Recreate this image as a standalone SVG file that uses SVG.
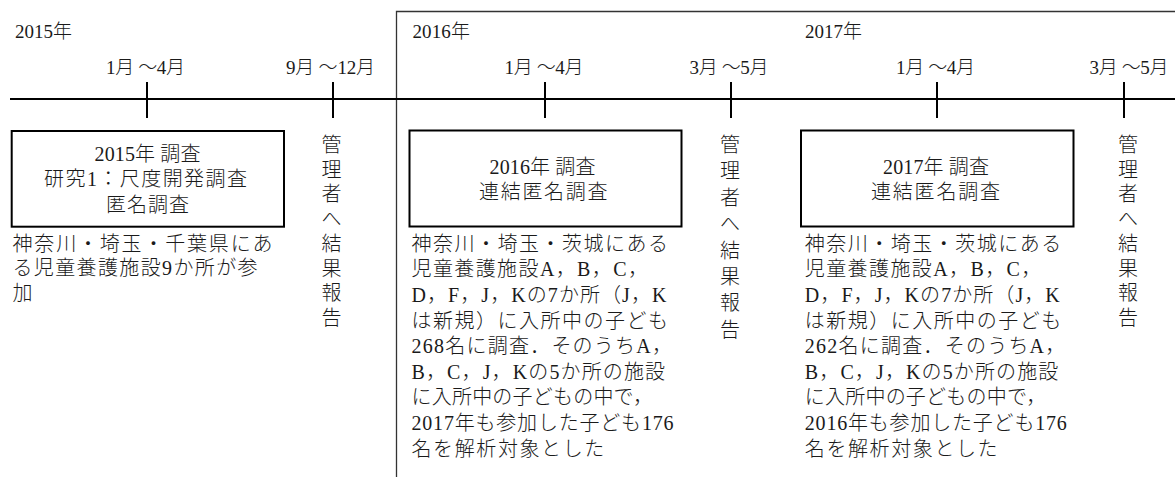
<svg xmlns="http://www.w3.org/2000/svg" width="1175" height="477" viewBox="0 0 1175 477">
<style>
text{font-family:"Liberation Serif","Noto Sans CJK JP",serif;fill:#1a1a1a;font-weight:300;}
.r{font-family:"Liberation Serif",serif;font-weight:400;}
.lbl{font-size:19px;}
.t{font-size:20px;}
.ls{letter-spacing:1.6px;}
.box{fill:#fff;stroke:#000;stroke-width:2;}
.axis{stroke:#000;stroke-width:2;fill:none;}
.frame{stroke:#333;stroke-width:1.3;fill:none;}
.vc{font-size:20px;text-anchor:middle;}
</style>
<rect width="1175" height="477" fill="#fff"/>
<g id="connectors">
<path class="frame" d="M396.5,477 V11.5 H1175"/>
<line class="axis" x1="10" y1="99" x2="1175" y2="99"/>
<line class="axis" x1="147" y1="82" x2="147" y2="118"/>
<line class="axis" x1="333" y1="82" x2="333" y2="118"/>
<line class="axis" x1="545" y1="82" x2="545" y2="118"/>
<line class="axis" x1="731" y1="82" x2="731" y2="118"/>
<line class="axis" x1="937" y1="82" x2="937" y2="118"/>
<line class="axis" x1="1124" y1="82" x2="1124" y2="118"/>
</g>
<g id="labels">
<text class="lbl" x="15" y="38" textLength="57"><tspan class="r">2015</tspan>年</text>
<text class="lbl" x="412.5" y="38" textLength="57.5"><tspan class="r">2016</tspan>年</text>
<text class="lbl" x="805" y="38" textLength="57"><tspan class="r">2017</tspan>年</text>
<text class="lbl" x="106" y="74" textLength="79"><tspan class="r">1</tspan>月 ～<tspan class="r">4</tspan>月</text>
<text class="lbl" x="286" y="74" textLength="89"><tspan class="r">9</tspan>月 ～<tspan class="r">12</tspan>月</text>
<text class="lbl" x="504.5" y="74" textLength="79"><tspan class="r">1</tspan>月 ～<tspan class="r">4</tspan>月</text>
<text class="lbl" x="689.5" y="74" textLength="79"><tspan class="r">3</tspan>月 ～<tspan class="r">5</tspan>月</text>
<text class="lbl" x="896" y="74" textLength="79"><tspan class="r">1</tspan>月 ～<tspan class="r">4</tspan>月</text>
<text class="lbl" x="1089.5" y="74" textLength="79"><tspan class="r">3</tspan>月 ～<tspan class="r">5</tspan>月</text>
</g>
<g id="survey2015">
<rect class="box" x="11.7" y="131" width="272.3" height="95.7"/>
<text class="t" x="94.5" y="160.5" textLength="106"><tspan class="r">2015</tspan>年 調査</text>
<text class="t" x="44" y="186" textLength="203">研究<tspan class="r">1</tspan>：尺度開発調査</text>
<text class="t" x="106" y="211.5" textLength="83">匿名調査</text>
<text class="t" x="12.5" y="251" textLength="260">神奈川・埼玉・千葉県にあ</text>
<text class="t" x="12.5" y="275" textLength="245">る児童養護施設<tspan class="r">9</tspan>か所が参</text>
<text class="t ls" x="12.5" y="299.5">加</text>
</g>
<g id="report2015">
<text class="vc"><tspan x="331.5" y="152">管</tspan><tspan x="331.5" y="176.7">理</tspan><tspan x="331.5" y="201.4">者</tspan><tspan x="331.5" y="226.1">へ</tspan><tspan x="331.5" y="250.8">結</tspan><tspan x="331.5" y="275.5">果</tspan><tspan x="331.5" y="300.2">報</tspan><tspan x="331.5" y="324.9">告</tspan></text>
</g>
<g id="survey2016">
<rect class="box" x="409.5" y="130.5" width="272" height="96"/>
<text class="t" x="489.5" y="173.5" textLength="106"><tspan class="r">2016</tspan>年 調査</text>
<text class="t" x="479" y="198.5" textLength="128.5">連結匿名調査</text>
<text class="t" x="411.5" y="250.7" textLength="256.5">神奈川・埼玉・茨城にある</text>
<text class="t" x="411.5" y="276.3" textLength="236.5">児童養護施設<tspan class="r">A</tspan>，<tspan class="r">B</tspan>，<tspan class="r">C</tspan>，</text>
<text class="t" x="411.5" y="301.9" textLength="255"><tspan class="r">D</tspan>，<tspan class="r">F</tspan>，<tspan class="r">J</tspan>，<tspan class="r">K</tspan>の<tspan class="r">7</tspan>か所（<tspan class="r">J</tspan>，<tspan class="r">K</tspan></text>
<text class="t" x="411.5" y="327.5" textLength="256.5">は新規）に入所中の子ども</text>
<text class="t" x="411.5" y="353.1" textLength="260.5"><tspan class="r">268</tspan>名に調査．そのうち<tspan class="r">A</tspan>，</text>
<text class="t" x="411.5" y="378.7" textLength="253.5"><tspan class="r">B</tspan>，<tspan class="r">C</tspan>，<tspan class="r">J</tspan>，<tspan class="r">K</tspan>の<tspan class="r">5</tspan>か所の施設</text>
<text class="t" x="411.5" y="404.3" textLength="241.5">に入所中の子どもの中で，</text>
<text class="t" x="411.5" y="429.9" textLength="262"><tspan class="r">2017</tspan>年も参加した子ども<tspan class="r">176</tspan></text>
<text class="t ls" x="411.5" y="455.5">名を解析対象とした</text>
</g>
<g id="report2016">
<text class="vc"><tspan x="730" y="152">管</tspan><tspan x="730" y="178.4">理</tspan><tspan x="730" y="204.8">者</tspan><tspan x="730" y="231.2">へ</tspan><tspan x="730" y="257.6">結</tspan><tspan x="730" y="284">果</tspan><tspan x="730" y="310.4">報</tspan><tspan x="730" y="336.8">告</tspan></text>
</g>
<g id="survey2017">
<rect class="box" x="801" y="130.5" width="272.5" height="96"/>
<text class="t" x="883" y="173.5" textLength="106"><tspan class="r">2017</tspan>年 調査</text>
<text class="t" x="871" y="198.5" textLength="129">連結匿名調査</text>
<text class="t" x="804.8" y="250.7" textLength="256.5">神奈川・埼玉・茨城にある</text>
<text class="t" x="804.8" y="276.3" textLength="236.5">児童養護施設<tspan class="r">A</tspan>，<tspan class="r">B</tspan>，<tspan class="r">C</tspan>，</text>
<text class="t" x="804.8" y="301.9" textLength="255"><tspan class="r">D</tspan>，<tspan class="r">F</tspan>，<tspan class="r">J</tspan>，<tspan class="r">K</tspan>の<tspan class="r">7</tspan>か所（<tspan class="r">J</tspan>，<tspan class="r">K</tspan></text>
<text class="t" x="804.8" y="327.5" textLength="256.5">は新規）に入所中の子ども</text>
<text class="t" x="804.8" y="353.1" textLength="260.5"><tspan class="r">262</tspan>名に調査．そのうち<tspan class="r">A</tspan>，</text>
<text class="t" x="804.8" y="378.7" textLength="253.5"><tspan class="r">B</tspan>，<tspan class="r">C</tspan>，<tspan class="r">J</tspan>，<tspan class="r">K</tspan>の<tspan class="r">5</tspan>か所の施設</text>
<text class="t" x="804.8" y="404.3" textLength="241.5">に入所中の子どもの中で，</text>
<text class="t" x="804.8" y="429.9" textLength="262"><tspan class="r">2016</tspan>年も参加した子ども<tspan class="r">176</tspan></text>
<text class="t ls" x="804.8" y="455.5">名を解析対象とした</text>
</g>
<g id="report2017">
<text class="vc"><tspan x="1128" y="152">管</tspan><tspan x="1128" y="176.7">理</tspan><tspan x="1128" y="201.4">者</tspan><tspan x="1128" y="226.1">へ</tspan><tspan x="1128" y="250.8">結</tspan><tspan x="1128" y="275.5">果</tspan><tspan x="1128" y="300.2">報</tspan><tspan x="1128" y="324.9">告</tspan></text>
</g>
</svg>
